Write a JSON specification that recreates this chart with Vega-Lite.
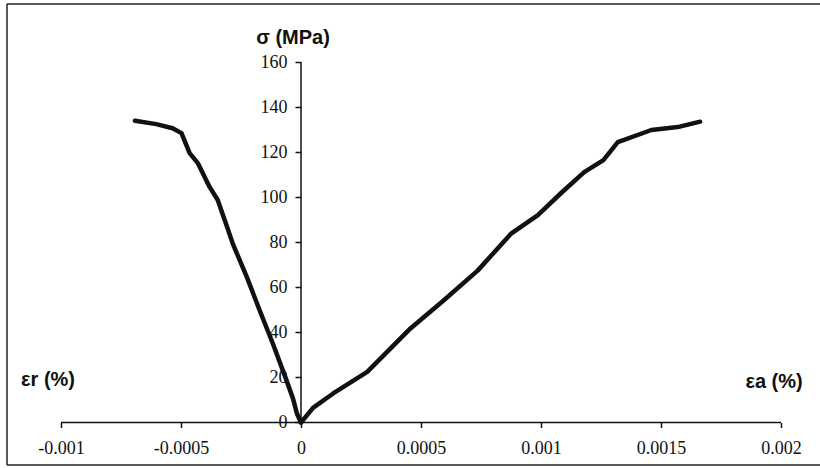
{
  "$schema": "https://vega.github.io/schema/vega-lite/v6.json",
  "width": 813,
  "height": 461,
  "padding": {"left": 7, "top": 4, "right": 0, "bottom": 3},
  "autosize": {"type": "none"},
  "background": "white",
  "config": {"view": {"stroke": null}},
  "datasets": {
    "curves": [
      {"series": "axial", "strain": 0, "stress": 0},
      {"series": "axial", "strain": 0.00005, "stress": 6.5},
      {"series": "axial", "strain": 0.000134, "stress": 12.9},
      {"series": "axial", "strain": 0.000276, "stress": 22.5},
      {"series": "axial", "strain": 0.000456, "stress": 41.8},
      {"series": "axial", "strain": 0.000594, "stress": 54.2},
      {"series": "axial", "strain": 0.000736, "stress": 67.5},
      {"series": "axial", "strain": 0.000874, "stress": 83.8},
      {"series": "axial", "strain": 0.000987, "stress": 92.2},
      {"series": "axial", "strain": 0.001084, "stress": 102},
      {"series": "axial", "strain": 0.00118, "stress": 111.3},
      {"series": "axial", "strain": 0.00126, "stress": 116.6},
      {"series": "axial", "strain": 0.00132, "stress": 124.6},
      {"series": "axial", "strain": 0.00146, "stress": 130},
      {"series": "axial", "strain": 0.00157, "stress": 131.3},
      {"series": "axial", "strain": 0.001663, "stress": 133.7},
      {"series": "radial", "strain": 0, "stress": 0},
      {"series": "radial", "strain": -0.000017, "stress": 4},
      {"series": "radial", "strain": -0.000033, "stress": 10.5},
      {"series": "radial", "strain": -0.00006, "stress": 18.6},
      {"series": "radial", "strain": -0.000117, "stress": 35},
      {"series": "radial", "strain": -0.000172, "stress": 49.8},
      {"series": "radial", "strain": -0.000226, "stress": 64.7},
      {"series": "radial", "strain": -0.000284, "stress": 79.4},
      {"series": "radial", "strain": -0.000305, "stress": 86},
      {"series": "radial", "strain": -0.000347, "stress": 98.9},
      {"series": "radial", "strain": -0.000381, "stress": 104.7},
      {"series": "radial", "strain": -0.00043, "stress": 115.3},
      {"series": "radial", "strain": -0.000464, "stress": 119.7},
      {"series": "radial", "strain": -0.000498, "stress": 128.6},
      {"series": "radial", "strain": -0.000535, "stress": 130.8},
      {"series": "radial", "strain": -0.000603, "stress": 132.6},
      {"series": "radial", "strain": -0.000692, "stress": 134.1}
    ]
  },
  "layer": [
    {
      "data": {"values": [{}]},
      "mark": {"type": "rule", "color": "#222", "strokeWidth": 1.5},
      "encoding": {"y": {"datum": 186, "type": "quantitative", "scale": {"domain": [-18.89, 186], "nice": false, "zero": false}}}
    },
    {
      "data": {"values": [{}]},
      "mark": {"type": "rule", "color": "#222", "strokeWidth": 1.5},
      "encoding": {"y": {"datum": -18.89, "type": "quantitative"}}
    },
    {
      "data": {"values": [{}]},
      "mark": {"type": "rule", "color": "#222", "strokeWidth": 1.5},
      "encoding": {"x": {"datum": -0.001225, "type": "quantitative", "scale": {"domain": [-0.001225, 0.0021625], "nice": false, "zero": false}}}
    },
    {
      "data": {"values": [{}]},
      "mark": {"type": "rule", "color": "#111", "strokeWidth": 1.5},
      "encoding": {
        "x": {"datum": -0.001, "type": "quantitative"},
        "x2": {"datum": 0.002},
        "y": {"datum": 0, "type": "quantitative"}
      }
    },
    {
      "data": {"values": [{}]},
      "mark": {"type": "rule", "color": "#111", "strokeWidth": 1.5},
      "encoding": {
        "x": {"datum": 0, "type": "quantitative"},
        "y": {"datum": 0, "type": "quantitative"},
        "y2": {"datum": 160}
      }
    },
    {
      "data": {"name": "curves"},
      "mark": {"type": "line", "color": "#111", "strokeWidth": 4.5, "strokeCap": "round", "strokeJoin": "round"},
      "encoding": {
        "x": {
          "field": "strain",
          "type": "quantitative",
          "axis": {
            "orient": "bottom",
            "offset": -42.5,
            "values": [-0.001, -0.0005, 0, 0.0005, 0.001, 0.0015, 0.002],
            "domain": false,
            "grid": false,
            "tickSize": 5,
            "tickColor": "#111",
            "tickWidth": 1.5,
            "labelFont": "Times New Roman, Liberation Serif, serif",
            "labelFontSize": 18,
            "labelColor": "#111",
            "labelPadding": 12,
            "labelFlush": false,
            "labelOverlap": false,
            "labelExpr": "datum.value + ''",
            "title": null
          }
        },
        "y": {
          "field": "stress",
          "type": "quantitative",
          "axis": {
            "orient": "left",
            "offset": -294,
            "values": [0, 20, 40, 60, 80, 100, 120, 140, 160],
            "domain": false,
            "grid": false,
            "tickSize": 6,
            "tickColor": "#111",
            "tickWidth": 1.5,
            "labelFont": "Times New Roman, Liberation Serif, serif",
            "labelFontSize": 18,
            "labelColor": "#111",
            "labelPadding": 8,
            "labelFlush": false,
            "labelOverlap": false,
            "title": null
          }
        },
        "detail": {"field": "series"}
      }
    },
    {
      "data": {"values": [{}]},
      "mark": {"type": "text", "font": "Liberation Sans", "fontWeight": "bold", "fontSize": 20, "color": "#111", "align": "center", "baseline": "middle"},
      "encoding": {
        "x": {"datum": -0.0000333, "type": "quantitative"},
        "y": {"datum": 170.7, "type": "quantitative"},
        "text": {"value": "σ (MPa)"}
      }
    },
    {
      "data": {"values": [{}]},
      "mark": {"type": "text", "font": "Liberation Sans", "fontWeight": "bold", "fontSize": 20, "color": "#111", "align": "center", "baseline": "middle"},
      "encoding": {
        "x": {"datum": -0.001054, "type": "quantitative"},
        "y": {"datum": 18.7, "type": "quantitative"},
        "text": {"value": "εr (%)"}
      }
    },
    {
      "data": {"values": [{}]},
      "mark": {"type": "text", "font": "Liberation Sans", "fontWeight": "bold", "fontSize": 20, "color": "#111", "align": "center", "baseline": "middle"},
      "encoding": {
        "x": {"datum": 0.001971, "type": "quantitative"},
        "y": {"datum": 18, "type": "quantitative"},
        "text": {"value": "εa (%)"}
      }
    }
  ]
}
